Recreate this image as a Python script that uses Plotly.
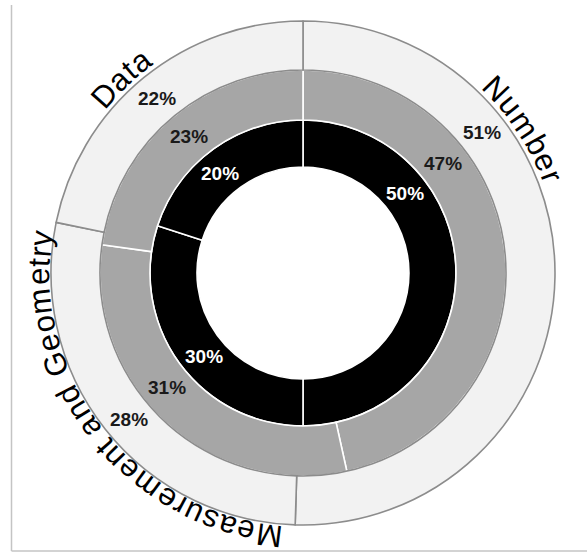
import math
import plotly.graph_objects as go

# Share of content by strand (three rings, outer to inner)
categories = ["Number", "Measurement and Geometry", "Data"]
outer_values = [51, 28, 22]
middle_values = [47, 31, 23]
inner_values = [50, 30, 20]

# Canvas and ring geometry (pixels)
W, H = 587, 554
CX, CY = 303, 273
R_OUT, R_MID, R_IN, R_HOLE = 252, 203, 153, 106

FONT = "Arial, Liberation Sans, sans-serif"

# Angle (degrees clockwise from 12 o'clock) where each strand's percentages sit
pct_angle = {"Number": 52, "Measurement and Geometry": 230, "Data": 320}
# Centre angle and radius of each curved strand name around the outside
name_angle = {"Number": 56.7, "Measurement and Geometry": 231.9, "Data": 316.9}
name_radius = {"Number": 267, "Measurement and Geometry": 264, "Data": 267}
NAME_SIZE = 31
NAME_EM_STEP = 34.5  # px advanced per em along the arc

# Arial advance widths (em/1000)
ADV = {"M": 833, "e": 556, "a": 556, "s": 500, "u": 556, "r": 333, "m": 833,
       "n": 556, "t": 278, " ": 278, "d": 556, "G": 778, "o": 556, "y": 500,
       "N": 722, "b": 556, "D": 722}


def domain(r):
    return dict(x=[(CX - r) / W, (CX + r) / W], y=[1 - (CY + r) / H, 1 - (CY - r) / H])


def polar(angle_deg, r):
    a = math.radians(angle_deg)
    px = CX + r * math.sin(a)
    py = CY - r * math.cos(a)
    return px / W, 1 - py / H


def norm_angle(a):
    return (a + 180) % 360 - 180


fig = go.Figure()

rings = [
    (inner_values, R_IN, R_HOLE, "#000000", "#ffffff"),
    (middle_values, R_MID, R_IN, "#a6a6a6", "#ffffff"),
    (outer_values, R_OUT, R_MID, "#f2f2f2", "#8c8c8c"),
]
for vals, r_outer, r_inner, fill, edge in rings:
    fig.add_trace(go.Pie(
        labels=categories,
        values=vals,
        hole=r_inner / r_outer,
        domain=domain(r_outer),
        sort=False,
        direction="clockwise",
        rotation=0,
        textinfo="none",
        hoverinfo="skip",
        marker=dict(colors=[fill] * len(vals), line=dict(color=edge, width=1.6)),
        showlegend=False,
    ))

annotations = []

# Percent labels inside each ring
ring_labels = [
    (outer_values, (R_OUT + R_MID) / 2, "#1a1a1a"),
    (middle_values, (R_MID + R_IN) / 2, "#1a1a1a"),
    (inner_values, (R_IN + R_HOLE) / 2, "#ffffff"),
]
for vals, r, color in ring_labels:
    for cat, v in zip(categories, vals):
        x, y = polar(pct_angle[cat], r)
        annotations.append(dict(
            x=x, y=y, xref="paper", yref="paper", showarrow=False,
            text=f"<b>{v}%</b>", xanchor="center", yanchor="middle",
            font=dict(family=FONT, size=19, color=color),
        ))

# Strand names set along the outer circle, one glyph at a time
for cat in categories:
    r_name = name_radius[cat]
    deg_per_em = math.degrees(NAME_EM_STEP / r_name)
    widths = [ADV.get(ch, 556) / 1000 for ch in cat]
    total = sum(widths)
    pos = 0.0
    for ch, w in zip(cat, widths):
        centre = pos + w / 2
        pos += w
        if ch == " ":
            continue
        ang = name_angle[cat] + (centre - total / 2) * deg_per_em
        x, y = polar(ang, r_name)
        annotations.append(dict(
            x=x, y=y, xref="paper", yref="paper", showarrow=False,
            text=ch, textangle=norm_angle(ang), xanchor="center", yanchor="middle",
            font=dict(family=FONT, size=NAME_SIZE, color="#000000"),
        ))

# Thin frame on the left and bottom edges
frame = dict(color="#c4c4c4", width=1.5)
shapes = [
    dict(type="line", xref="paper", yref="paper",
         x0=11.5 / W, x1=11.5 / W, y0=1 - 551 / H, y1=1 - 5 / H, line=frame),
    dict(type="line", xref="paper", yref="paper",
         x0=11.5 / W, x1=1, y0=1 - 551 / H, y1=1 - 551 / H, line=frame),
]

fig.update_layout(
    width=W, height=H,
    margin=dict(l=0, r=0, t=0, b=0),
    paper_bgcolor="#ffffff",
    plot_bgcolor="#ffffff",
    showlegend=False,
    annotations=annotations,
    shapes=shapes,
)

fig.write_html("out.html")
